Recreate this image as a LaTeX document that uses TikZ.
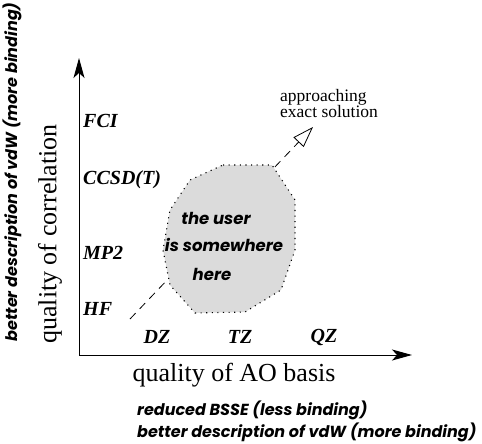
\documentclass[tikz,border=0pt]{standalone}
\usepackage{fontspec}
\setmainfont{Liberation Serif}
\setsansfont{Poppins}
\usepackage{tikz}
\usetikzlibrary{arrows.meta}

\begin{document}
\begin{tikzpicture}[x=1pt, y=-1pt,
    method/.style={font=\fontsize{20}{22}\selectfont\bfseries\itshape, anchor=west, inner sep=0pt},
    basis/.style={font=\fontsize{20}{22}\selectfont\bfseries\itshape, inner sep=0pt},
    axislabel/.style={font=\fontsize{26}{28}\selectfont, inner sep=0pt},
    remark/.style={font=\fontsize{16}{18}\selectfont\sffamily\bfseries\itshape, inner sep=0pt},
    inside/.style={font=\fontsize{16.5}{18}\selectfont\sffamily\bfseries\itshape, inner sep=0pt},
    axis/.style={line width=1pt, -{Stealth[length=20pt, width=11pt, inset=5pt]}}]

        \useasboundingbox (0,0) rectangle (482,444);

        % Achsen
        \coordinate (origin) at (79,355);
        \coordinate (ytip) at (79,58);
        \coordinate (xtip) at (412,355);
        \draw[axis] (origin) -- (ytip);
        \draw[axis] (origin) -- (xtip);

        % Richtung zur exakten Loesung
        \coordinate (start) at (130,319);
        \coordinate (exact) at (313,127);
        \draw[line width=0.8pt, dash pattern=on 8pt off 6pt, -{Triangle[open, length=21pt, width=14pt]}] (start) -- (exact);
        \node[font=\fontsize{17.5}{16.5}\selectfont, align=left, anchor=south west, inner sep=0pt] (approach) at (280,118) {approaching\\exact solution};

        % Bereich des Nutzers
        \fill[gray!28] (223,165) -- (272,165) -- (295,200) -- (295,250) -- (281,290) -- (245,312)
            -- (195,313) -- (170,285) -- (163,250) -- (170,210) -- (190,180) -- cycle;
        \draw[line width=1.1pt, dash pattern=on 1.1pt off 4.5pt] (223,165) -- (272,165) -- (295,200) -- (295,250) -- (281,290) -- (245,312)
            -- (195,313) -- (170,285) -- (163,250) -- (170,210) -- (190,180) -- cycle;
        \node[inside] (user1) at (216,218) {the user};
        \node[inside] (user2) at (224,245) {is somewhere};
        \node[inside] (user3) at (212,274) {here};

        % Methoden
        \node[method] (fci) at (83,121) {FCI};
        \node[method] (ccsdt) at (83,180) {CCSD(T)};
        \node[method] (mp2) at (83,253) {MP2};
        \node[method] (hf) at (83,309) {HF};

        % Basissaetze
        \node[basis] (dz) at (157,337) {DZ};
        \node[basis] (tz) at (240,337) {TZ};
        \node[basis] (qz) at (324,337) {QZ};

        % Achsenbeschriftungen
        \node[axislabel, rotate=90] (corr) at (50,234) {quality of correlation};
        \node[axislabel] (ao) at (234,375) {quality of AO basis};
        \node[remark, rotate=90] (vdwy) at (12,172) {better description of vdW (more binding)};
        \node[remark, anchor=west] (bsse) at (137,410) {reduced BSSE (less binding)};
        \node[remark, anchor=west] (vdwx) at (137,432) {better description of vdW (more binding)};

    \end{tikzpicture}
\end{document}
